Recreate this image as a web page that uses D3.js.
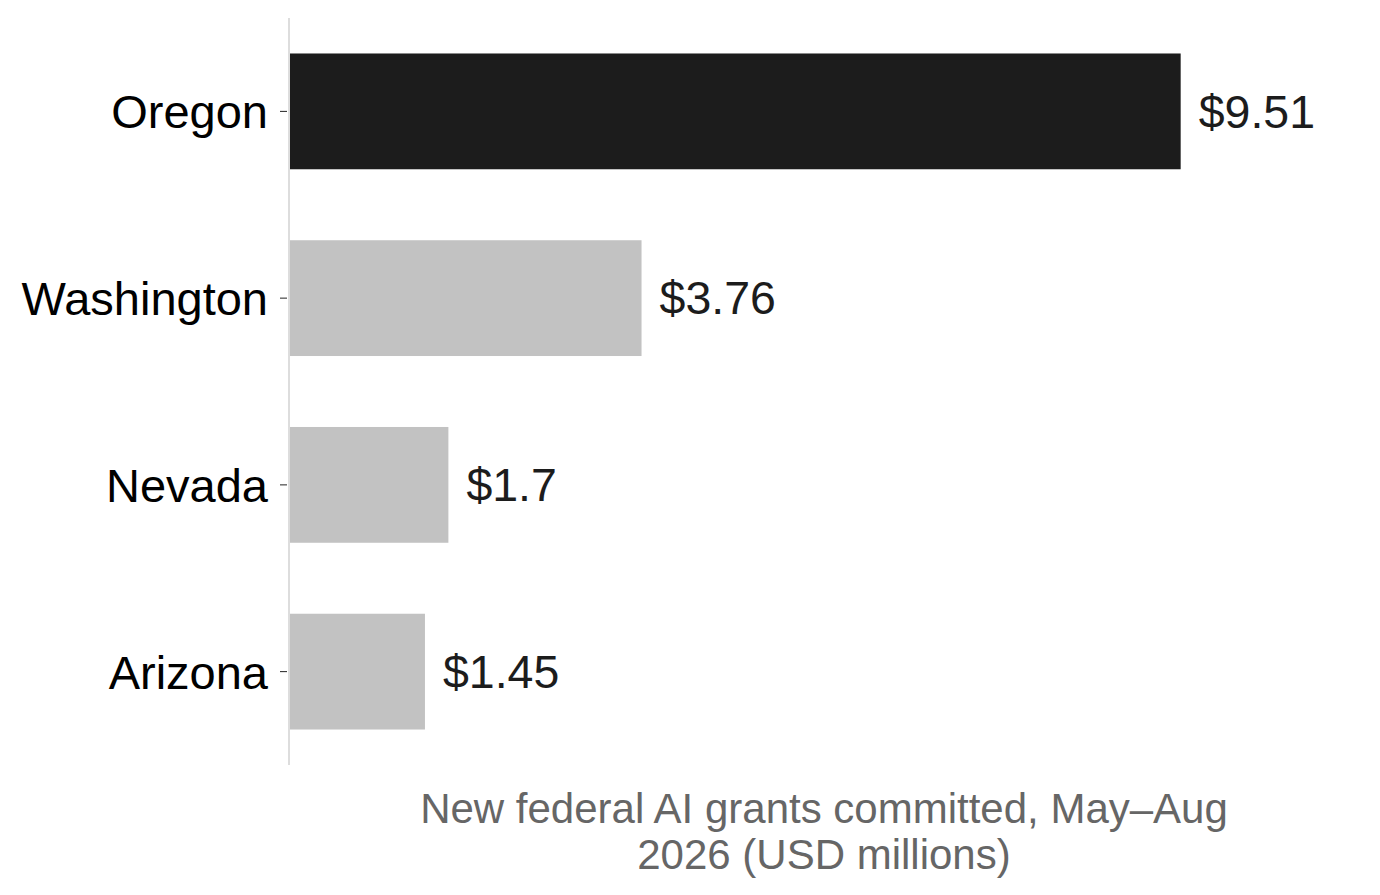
<!DOCTYPE html>
<html>
<head>
<meta charset="utf-8">
<script src="https://cdn.jsdelivr.net/npm/d3@7"></script>
<style>
  body { margin: 0; background: #fff; }
  text { font-family: "Liberation Sans", Arial, sans-serif; }
</style>
</head>
<body>
<div class="chart"></div>
<script>
const states = ["Oregon", "Washington", "Nevada", "Arizona"];
const grants = [9.51, 3.76, 1.7, 1.45];
const highlight = ["Oregon"];
const axisTitle = ["New federal AI grants committed, May\u2013Aug", "2026 (USD millions)"];

const W = 1380, H = 895;
const margin = { top: 18, right: 21, bottom: 130, left: 289 };
const width = W - margin.left - margin.right;
const height = H - margin.top - margin.bottom;

const data = states.map((s, i) => ({ state: s, value: grants[i] }));

const svg = d3.select(".chart").append("svg")
  .attr("width", W)
  .attr("height", H);

const g = svg.append("g")
  .attr("transform", "translate(" + margin.left + "," + margin.top + ")");

const x = d3.scaleLinear()
  .domain([0, d3.max(grants) * 1.2])
  .range([0, width]);

const y = d3.scaleBand()
  .domain(states)
  .range([0, height])
  .paddingInner(0.38)
  .paddingOuter(0.19);

// bars
g.selectAll("rect.bar")
  .data(data)
  .enter()
  .append("rect")
  .attr("class", "bar")
  .attr("x", x(0) + 1)
  .attr("y", d => y(d.state))
  .attr("width", d => x(d.value) - x(0) - 1)
  .attr("height", y.bandwidth())
  .attr("fill", d => highlight.includes(d.state) ? "#1c1c1c" : "#c2c2c2");

// value labels
g.selectAll("text.val")
  .data(data)
  .enter()
  .append("text")
  .attr("class", "val")
  .attr("x", d => x(d.value) + 18)
  .attr("y", d => y(d.state) + y.bandwidth() / 2)
  .attr("dy", "0.35em")
  .style("font-size", "46.5px")
  .attr("fill", "#1c1c1c")
  .text(d => "$" + d.value);

// y axis
const yAxis = g.append("g")
  .call(d3.axisLeft(y).tickSize(7).tickPadding(12));
yAxis.select(".domain")
  .attr("stroke", "#dddddd")
  .attr("stroke-width", 2)
  .attr("d", "M0,0V" + height);
yAxis.selectAll(".tick line").attr("stroke", "#222").attr("x1", -2).attr("x2", -9);
yAxis.selectAll(".tick text")
  .attr("x", -21)
  .attr("dy", "0.36em")
  .style("font-size", "47px")
  .attr("fill", "#000");

// x axis title
const title = g.append("text")
  .attr("x", width / 2)
  .attr("y", height + 58)
  .attr("text-anchor", "middle")
  .style("font-size", "42px")
  .attr("fill", "#666");
title.selectAll("tspan")
  .data(axisTitle)
  .enter()
  .append("tspan")
  .attr("x", width / 2)
  .attr("dy", (d, i) => i ? 46 : 0)
  .text(d => d);
</script>
</body>
</html>
